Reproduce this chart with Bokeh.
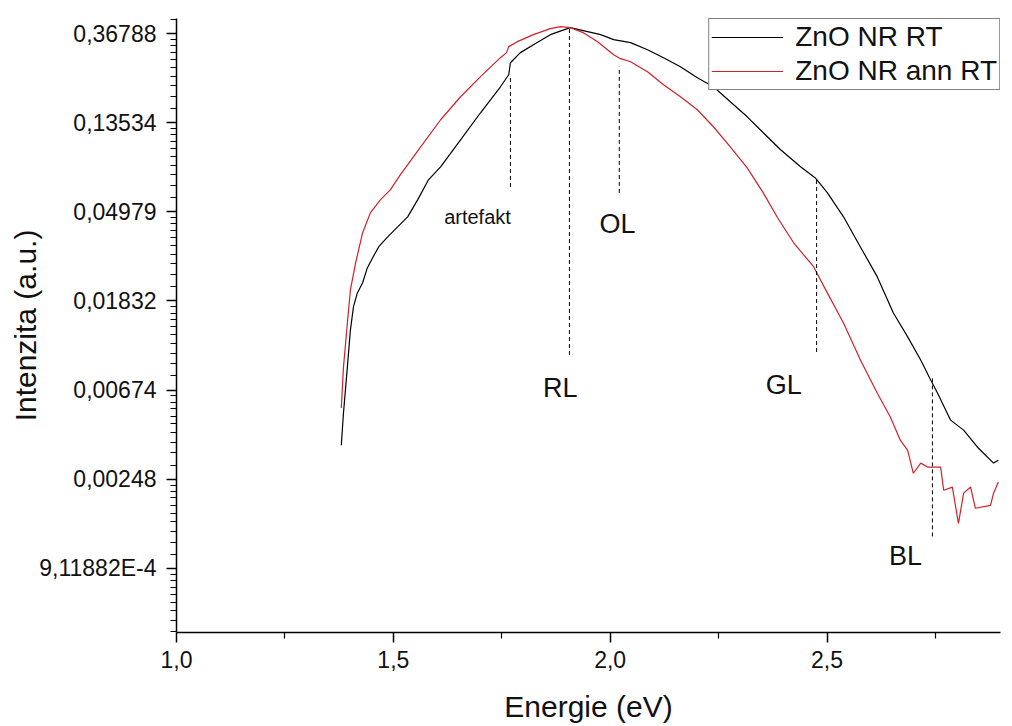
import math
from bokeh.plotting import figure
from bokeh.models import (Range1d, FixedTicker, CustomJSTickFormatter, Legend,
                          LegendItem, ColumnDataSource)
from bokeh.core.properties import value
from bokeh.embed import file_html
from bokeh.resources import INLINE

# ---- data ----
energy_rt = [1.380, 1.385, 1.394, 1.401, 1.408, 1.417, 1.429, 1.440, 1.452, 1.466,
             1.487, 1.510, 1.533, 1.556, 1.581, 1.609, 1.655, 1.701, 1.747, 1.766,
             1.770, 1.793, 1.823, 1.862, 1.908, 1.948, 1.978, 2.008, 2.047, 2.086,
             2.123, 2.162, 2.201, 2.238, 2.277, 2.316, 2.353, 2.393, 2.439, 2.473,
             2.501, 2.538, 2.577, 2.616, 2.653, 2.686, 2.716, 2.739, 2.755, 2.785,
             2.815, 2.847, 2.884, 2.895]
intensity_rt = [0.00363, 0.00521, 0.00872, 0.01322, 0.01713, 0.02005, 0.02242, 0.02655,
                0.02969, 0.03360, 0.03760, 0.04205, 0.04707, 0.05697, 0.07136, 0.08255,
                0.1118, 0.1514, 0.2027, 0.2320, 0.2655, 0.2973, 0.3251, 0.3638, 0.3934,
                0.3761, 0.3638, 0.3440, 0.3325, 0.3073, 0.2809, 0.2539, 0.2244, 0.2028,
                0.1713, 0.1447, 0.1210, 0.1000, 0.0826, 0.0729, 0.0616, 0.0471, 0.0336,
                0.0240, 0.0160, 0.01224, 0.00944, 0.00754, 0.00651, 0.00481, 0.00430,
                0.00355, 0.00297, 0.00307]

energy_ann = [1.380, 1.385, 1.394, 1.401, 1.413, 1.429, 1.447, 1.470, 1.493, 1.516,
              1.563, 1.609, 1.655, 1.701, 1.747, 1.761, 1.766, 1.786, 1.823, 1.862,
              1.885, 1.908, 1.938, 1.971, 2.008, 2.024, 2.047, 2.086, 2.123, 2.162,
              2.201, 2.238, 2.277, 2.316, 2.353, 2.386, 2.423, 2.469, 2.501, 2.538,
              2.577, 2.616, 2.646, 2.669, 2.686, 2.699, 2.716, 2.732, 2.762, 2.769,
              2.789, 2.803, 2.815, 2.831, 2.842, 2.877, 2.884, 2.895]
intensity_ann = [0.00551, 0.00872, 0.01430, 0.02073, 0.02807, 0.03930, 0.04925, 0.05697,
                 0.06374, 0.07547, 0.1033, 0.1400, 0.1812, 0.2270, 0.2809, 0.2973, 0.3180,
                 0.3362, 0.3638, 0.3891, 0.3980, 0.3934, 0.3720, 0.3362, 0.2906, 0.2778,
                 0.2685, 0.2400, 0.2074, 0.1812, 0.1566, 0.1294, 0.1033, 0.0816, 0.0616,
                 0.0466, 0.0352, 0.0269, 0.0200, 0.01430, 0.00944, 0.00651, 0.00498,
                 0.00384, 0.00343, 0.00265, 0.00297, 0.00284, 0.00284, 0.00219, 0.00227,
                 0.00151, 0.00212, 0.00227, 0.00179, 0.00185, 0.00212, 0.00240]

marker_names = ["artefakt", "RL", "OL", "GL", "BL"]
marker_energy = [1.770, 1.906, 2.021, 2.476, 2.743]
marker_top = [0.232, 0.393, 0.254, 0.0729, 0.00780]
marker_bottom = [0.0659, 0.00999, 0.0616, 0.01033, 0.001305]
label_energy = [1.694, 1.885, 2.017, 2.400, 2.681]
label_intensity = [0.0471, 0.00689, 0.0435, 0.00712, 0.001043]

series_names = ["ZnO NR RT", "ZnO NR ann RT"]

y_tick_values = [math.exp(-k) for k in range(1, 8)]
y_tick_labels = ["0,36788", "0,13534", "0,04979", "0,01832", "0,00674", "0,00248",
                 "9,11882E-4"]
x_tick_values = [1.0, 1.5, 2.0, 2.5]
x_tick_labels = ["1,0", "1,5", "2,0", "2,5"]
x_minor_ticks = [1.25, 1.75, 2.25, 2.75]

FONT = "Liberation Sans"

y_min, y_max = math.exp(-7.72), math.exp(-0.83)

p = figure(width=1004, height=726, output_backend="svg", toolbar_location=None,
           y_axis_type="log", x_range=Range1d(1.0, 2.9), y_range=Range1d(y_min, y_max),
           min_border_left=176, min_border_right=4, min_border_top=18,
           min_border_bottom=94)
p.outline_line_color = None
p.grid.visible = False
p.background_fill_color = "white"
p.border_fill_color = "white"

# minor ticks of the log axis: linear steps between major ticks (base e)
y_minor = []
for k in range(0, 8):
    lo, hi = math.exp(-(k + 1)), math.exp(-k)
    for j in range(1, 10):
        v = lo + j * (hi - lo) / 10
        if y_min <= v <= y_max:
            y_minor.append(v)

p.yaxis.ticker = FixedTicker(ticks=y_tick_values, minor_ticks=y_minor)
p.yaxis.formatter = CustomJSTickFormatter(
    args=dict(vals=y_tick_values, labels=y_tick_labels),
    code="for (let i = 0; i < vals.length; i++) { if (Math.abs(Math.log(tick) - Math.log(vals[i])) < 1e-6) return labels[i]; } return '';")
p.xaxis.ticker = FixedTicker(ticks=x_tick_values, minor_ticks=x_minor_ticks)
p.xaxis.formatter = CustomJSTickFormatter(
    args=dict(vals=x_tick_values, labels=x_tick_labels),
    code="for (let i = 0; i < vals.length; i++) { if (Math.abs(tick - vals[i]) < 1e-6) return labels[i]; } return '';")

for ax in (p.xaxis[0], p.yaxis[0]):
    ax.axis_line_color = "black"
    ax.axis_line_width = 1.5
    ax.major_tick_line_color = "black"
    ax.minor_tick_line_color = "black"
    ax.major_tick_line_width = 1.5
    ax.minor_tick_line_width = 1.2
    ax.major_tick_in = 0
    ax.minor_tick_in = 0
    ax.major_tick_out = 10
    ax.minor_tick_out = 6
    ax.major_label_text_font = FONT
    ax.major_label_text_font_size = "23px"
    ax.major_label_text_color = "#111111"
    ax.axis_label_text_font = FONT
    ax.axis_label_text_font_style = "normal"
    ax.axis_label_text_font_size = "30px"
    ax.axis_label_text_color = "#111111"

p.xaxis.axis_label = "Energie (eV)"
p.yaxis.axis_label = "Intenzita (a.u.)"
p.xaxis.major_label_standoff = 8
p.xaxis.axis_label_standoff = 19
p.yaxis.major_label_standoff = 10
p.yaxis.axis_label_standoff = -6

r1 = p.line(energy_rt, intensity_rt, line_color="black", line_width=1.2)
r2 = p.line(energy_ann, intensity_ann, line_color="#d0202a", line_width=1.2)

p.segment(x0=marker_energy, y0=marker_bottom, x1=marker_energy, y1=marker_top,
          line_color="black", line_width=1, line_dash="4 3")

lab_src = ColumnDataSource(dict(
    x=label_energy, y=label_intensity, t=marker_names,
    size=["20px", "27px", "27px", "27px", "27px"]))
p.text(x="x", y="y", text="t", source=lab_src, text_font=value(FONT),
       text_font_size="size", text_align="center", text_baseline="middle",
       text_color="#111111")

legend = Legend(items=[LegendItem(label=series_names[0], renderers=[r1]),
                       LegendItem(label=series_names[1], renderers=[r2])],
                location="top_right")
legend.label_text_font = FONT
legend.label_text_font_size = "28px"
legend.label_text_color = "#111111"
legend.border_line_color = "black"
legend.border_line_width = 1
legend.background_fill_alpha = 1
legend.padding = 2
legend.spacing = 2
legend.margin = 0
legend.glyph_width = 72
legend.glyph_height = 32
legend.label_height = 32
legend.label_standoff = 12
p.add_layout(legend)

open("out.html", "w").write(file_html(p, INLINE))
